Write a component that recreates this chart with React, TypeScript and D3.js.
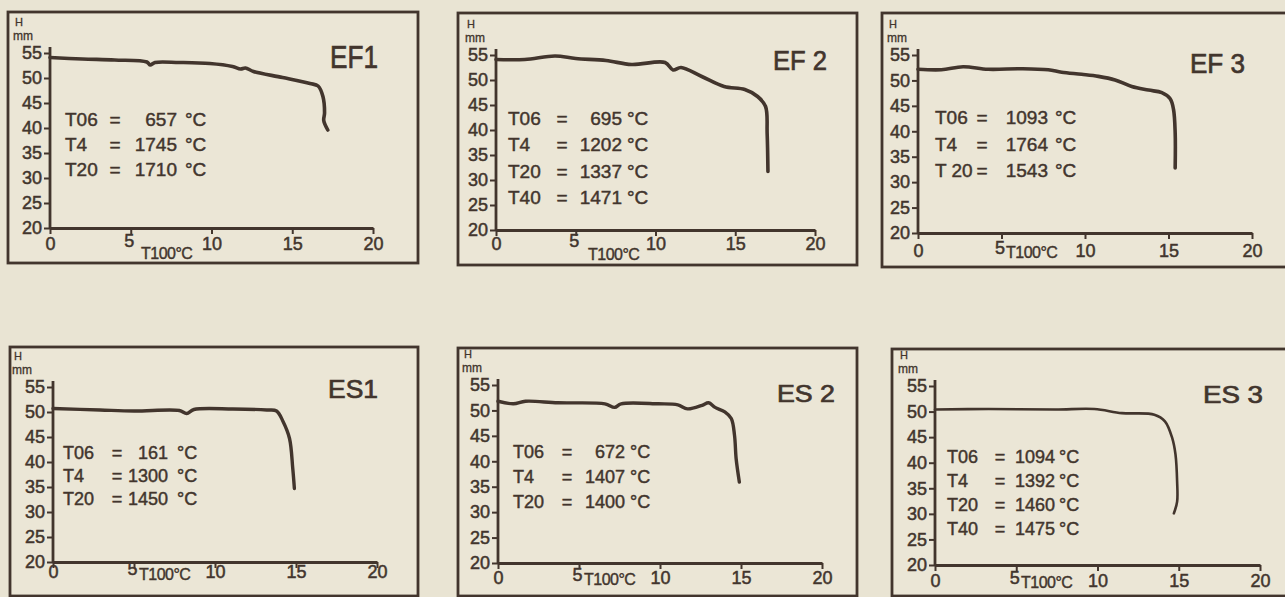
import { useEffect, useRef } from "react";
import * as d3 from "d3";

const xTicks = [0, 5, 10, 15, 20];
const yTicks = [20, 25, 30, 35, 40, 45, 50, 55];
const xLabel = "T100°C";

const titles = ["EF1", "EF 2", "EF 3", "ES1", "ES 2", "ES 3"];

// [T x100 °C, H mm]
const ef1Curve = [[0, 54.1], [2, 53.8], [4, 53.6], [6, 53.2], [6.2, 52.6], [6.5, 53.1], [8, 53.1], [9.9, 52.9], [11.3, 52.3], [11.8, 51.8], [12.1, 52.0], [12.6, 51.3], [14.4, 50.1], [16.1, 48.9], [16.6, 48.4], [16.9, 46.3], [17.0, 43], [16.95, 41.5], [17.2, 39.6]];
const ef2Curve = [[0, 54.1], [1.8, 54.1], [3.7, 54.8], [5, 54.3], [6.9, 53.9], [8.5, 53.1], [10.6, 53.5], [11.1, 52], [11.6, 52.5], [12.9, 50.7], [14.3, 48.7], [15.6, 48.1], [16.4, 46.7], [16.9, 44.7], [17.0, 39.3], [17.05, 31.7]];
const ef3Curve = [[0, 52.2], [1.4, 52.1], [2.7, 52.7], [4.2, 52.2], [6.2, 52.3], [7.8, 52.1], [8.6, 51.6], [9.8, 51.2], [10.8, 50.8], [11.8, 50.1], [12.8, 48.8], [13.8, 48.1], [14.6, 47.6], [15.1, 46.4], [15.3, 44.3], [15.4, 39.7], [15.4, 32.8]];
const es1Curve = [[0, 50.7], [2.9, 50.4], [5, 50.2], [7.8, 50.3], [8.25, 49.7], [8.7, 50.5], [11.1, 50.6], [13.2, 50.4], [13.8, 50.2], [14.2, 48.1], [14.6, 44.7], [14.8, 38.7], [14.9, 34.7]];
const es2Curve = [[0, 51.8], [0.95, 51.3], [1.7, 51.8], [3.7, 51.5], [6.6, 51.3], [7.2, 50.6], [7.6, 51.3], [9.9, 51.3], [11.1, 51.1], [11.7, 50.3], [12.6, 51.0], [13.0, 51.5], [13.4, 50.6], [14.0, 49.7], [14.4, 48.4], [14.6, 45.1], [14.7, 40.5], [14.9, 35.9]];
const es3Curve = [[0, 50.4], [3.3, 50.5], [7.4, 50.4], [9.8, 50.5], [11.5, 49.7], [13.5, 49.4], [14.15, 48.1], [14.6, 44.8], [14.8, 41.6], [14.9, 36.3], [14.9, 32.4], [14.7, 30.1]];

// characteristic temperatures, °C
const ef1Temps = [["T06", 657], ["T4", 1745], ["T20", 1710]];
const ef2Temps = [["T06", 695], ["T4", 1202], ["T20", 1337], ["T40", 1471]];
const ef3Temps = [["T06", 1093], ["T4", 1764], ["T 20", 1543]];
const es1Temps = [["T06", 161], ["T4", 1300], ["T20", 1450]];
const es2Temps = [["T06", 672], ["T4", 1407], ["T20", 1400]];
const es3Temps = [["T06", 1094], ["T4", 1392], ["T20", 1460], ["T40", 1475]];

const curves = [ef1Curve, ef2Curve, ef3Curve, es1Curve, es2Curve, es3Curve];
const temps = [ef1Temps, ef2Temps, ef3Temps, es1Temps, es2Temps, es3Temps];

// page layout of each small chart (pixels)
const layouts = [
  { box: [8, 12, 418, 263], ox: 50, x20: 373, oy: 228, y55: 53, tb: 22, info: [65, 126, 25, 19], dx: [50, 112, 120], title: [330, 68, 31, 48], hmx: 13, lab: [141, 259], lw: 3.6 },
  { box: [458, 13, 857, 265], ox: 496, x20: 815, oy: 230, y55: 55, tb: 20, info: [508, 125, 26.3, 19], dx: [54, 114, 119], title: [773, 70, 28, 54], hmx: 465, lab: [588, 260], lw: 3.6 },
  { box: [882, 13, 1292, 267], ox: 918, x20: 1252, oy: 233, y55: 55, tb: 24, info: [935, 124, 26.5, 19], dx: [47, 113, 120], title: [1190, 73, 27, 55], hmx: 887, lab: [1006, 258], lw: 3.6 },
  { box: [10, 347, 418, 596], ox: 53, x20: 377, oy: 562, y55: 387, tb: 16, info: [63, 459, 23, 18], dx: [54, 105, 114], title: [328, 398, 25, 50], hmx: 12, lab: [139, 580], lw: 3.4 },
  { box: [458, 348, 857, 596], ox: 498, x20: 822, oy: 563, y55: 385, tb: 21, info: [513, 458, 25, 18], dx: [54, 112, 117], title: [777, 402, 24, 58], hmx: 462, lab: [584, 585], lw: 3.4 },
  { box: [892, 349, 1292, 596], ox: 935, x20: 1260, oy: 565, y55: 386, tb: 22, info: [947, 463, 24, 18], dx: [53, 108, 112], title: [1203, 403, 24, 60], hmx: 898, lab: [1021, 588], lw: 2.6 },
];

const W = 1285;
const H = 597;
const BG = "#e9e4d3";
const INK = "#42352d";
const FONT = "'Liberation Sans', Arial, sans-serif";

export default function App() {
  const ref = useRef<SVGSVGElement | null>(null);

  useEffect(() => {
    const svg = d3.select(ref.current);
    svg.selectAll("*").remove();

    svg.append("rect").attr("width", W).attr("height", H).attr("fill", BG);

    layouts.forEach((L, i) => {
      const g = svg.append("g");
      const [bx0, by0, bx1, by1] = L.box;
      g.append("rect")
        .attr("x", bx0)
        .attr("y", by0)
        .attr("width", bx1 - bx0)
        .attr("height", by1 - by0)
        .attr("fill", "#ebe6d6")
        .attr("stroke", INK)
        .attr("stroke-width", 2.8);

      const x = d3.scaleLinear([0, 20], [L.ox, L.x20]);
      const y = d3.scaleLinear([20, 55], [L.oy, L.y55]);

      const xAxis = g
        .append("g")
        .attr("transform", `translate(0,${L.oy})`)
        .call(d3.axisBottom(x).tickValues(xTicks).tickSize(6).tickSizeOuter(0));
      const yAxis = g
        .append("g")
        .attr("transform", `translate(${L.ox},0)`)
        .call(d3.axisLeft(y).tickValues(yTicks).tickSize(6).tickSizeOuter(0).tickPadding(2));

      [xAxis, yAxis].forEach((a) => {
        a.select(".domain").attr("stroke", INK).attr("stroke-width", 2.8);
        a.selectAll(".tick line").attr("stroke", INK).attr("stroke-width", 2);
        a.selectAll(".tick text")
          .attr("fill", INK)
          .attr("stroke", INK)
          .attr("stroke-width", 0.5)
          .style("font-family", FONT)
          .style("font-size", "18px");
      });
      xAxis.selectAll(".tick text").attr("y", L.tb).attr("dy", 0);
      // the "5" sits left of the x label
      xAxis
        .selectAll(".tick text")
        .filter((d) => d === 5)
        .attr("text-anchor", "end")
        .attr("x", 3)
        .attr("y", L.tb - 3);
      // y axis reaches a bit above the 55 tick
      yAxis.select(".domain").attr("d", `M0,${L.oy}V${L.y55 - 6}`);

      // curve
      const line = d3
        .line()
        .x((d) => x(d[0]))
        .y((d) => y(d[1]))
        .curve(d3.curveCatmullRom.alpha(0.5));
      g.append("path")
        .attr("d", line(curves[i] as [number, number][]))
        .attr("fill", "none")
        .attr("stroke", INK)
        .attr("stroke-width", L.lw)
        .attr("stroke-linejoin", "round")
        .attr("stroke-linecap", "round");

      const txt = (sel: any, size: number, sw = 0.45) =>
        sel
          .attr("fill", INK)
          .attr("stroke", INK)
          .attr("stroke-width", sw)
          .style("font-family", FONT)
          .style("font-size", size + "px");

      // H / mm, stacked above the 55 tick label
      const mmY = L.y55 - 13;
      txt(g.append("text").attr("x", L.hmx + 2).attr("y", mmY - 14), 11, 0.3).text("H");
      txt(g.append("text").attr("x", L.hmx).attr("y", mmY), 12, 0.3).text("mm");

      // x label
      txt(g.append("text").attr("x", L.lab[0]).attr("y", L.lab[1]), 16, 0.4)
        .style("letter-spacing", "-0.5px")
        .text(xLabel);

      // title
      txt(
        g
          .append("text")
          .attr("x", L.title[0])
          .attr("y", L.title[1])
          .attr("textLength", L.title[3])
          .attr("lengthAdjust", "spacingAndGlyphs"),
        L.title[2],
        0.7
      ).text(titles[i]);

      // temperature list
      const [ix, iy, step, fs] = L.info;
      const rows = g
        .append("g")
        .selectAll("g")
        .data(temps[i])
        .join("g")
        .attr("transform", (d, k) => `translate(${ix},${iy + k * step})`);
      txt(rows, fs, 0.45);
      rows.append("text").text((d) => d[0] as string);
      rows.append("text").attr("x", L.dx[0]).attr("text-anchor", "middle").text("=");
      rows
        .append("text")
        .attr("x", L.dx[1])
        .attr("text-anchor", "end")
        .text((d) => String(d[1]));
      rows.append("text").attr("x", L.dx[2]).text("°C");
    });
  }, []);

  return (
    <svg
      ref={ref}
      width={W}
      height={H}
      style={{ position: "absolute", left: 0, top: 0, display: "block" }}
    />
  );
}
